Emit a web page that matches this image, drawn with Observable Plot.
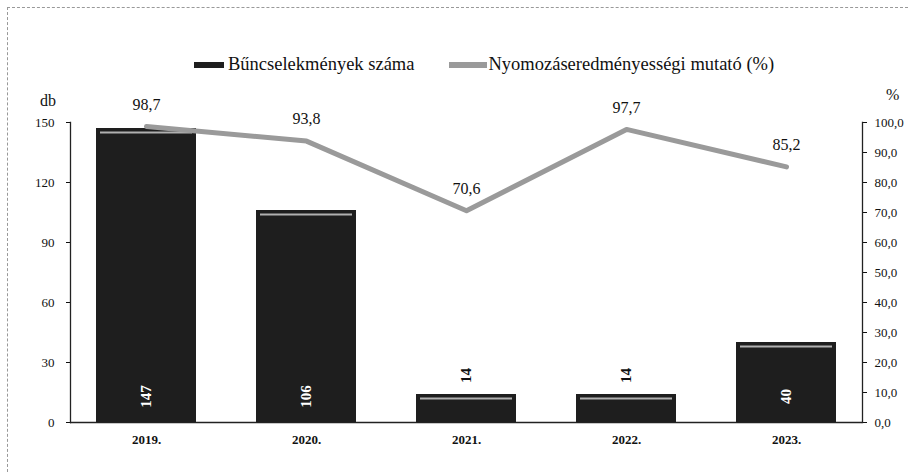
<!DOCTYPE html>
<html>
<head>
<meta charset="utf-8">
<script src="https://cdn.jsdelivr.net/npm/d3@7"></script>
<script src="https://cdn.jsdelivr.net/npm/@observablehq/plot@0.6"></script>
<style>
  html, body { margin: 0; padding: 0; background: #fff; }
  #wrap { position: relative; width: 908px; height: 472px; overflow: hidden; font-family: "Liberation Serif", "Times New Roman", serif; }
  #frameTop { position: absolute; left: 7px; top: 7px; width: 901px; border-top: 1px dashed #999; }
  #frameLeft { position: absolute; left: 7px; top: 7px; height: 465px; border-left: 1px dashed #999; }
  #legend { position: absolute; top: 54px; left: 194px; display: flex; align-items: center; font-size: 18.5px; color: #111; white-space: nowrap; font-family: "Liberation Serif", serif; }
  .sw { display: inline-block; height: 6px; }
  .item { display: flex; align-items: center; }
  #chart { position: absolute; left: 0; top: 0; }
  .lab { position: absolute; font-size: 16px; color: #111; }
</style>
</head>
<body>
<div id="wrap">
  <div id="frameTop"></div>
  <div id="frameLeft"></div>
  <div id="chart"></div>
  <div id="legend">
    <div class="item"><span class="sw" style="background:#1e1e1e;width:30px;margin-right:4px"></span>Bűncselekmények száma</div>
    <div class="item" style="margin-left:35px"><span class="sw" style="background:#9a9a9a;width:38px;margin-right:1px"></span>Nyomozáseredményességi mutató (%)</div>
  </div>
  <div class="lab" style="left:40px; top:92px;">db</div>
  <div class="lab" style="left:886px; top:86px;">%</div>
</div>
<script>
const years = ["2019.", "2020.", "2021.", "2022.", "2023."];
const counts = [147, 106, 14, 14, 40];
const rates = [98.7, 93.8, 70.6, 97.7, 85.2];
const leftTicks = [0, 30, 60, 90, 120, 150];
const rightTicks = [0, 10, 20, 30, 40, 50, 60, 70, 80, 90, 100];

const yMax = 150, pMax = 100, k = yMax / pMax;
const data = years.map((y, i) => ({year: y, count: counts[i], rate: rates[i], rateScaled: rates[i] * k}));
const fmt1 = v => v.toFixed(1).replace(".", ",");

const chart = Plot.plot({
  width: 908,
  height: 472,
  marginLeft: 70,
  marginRight: 46,
  marginTop: 122,
  marginBottom: 50,
  style: {fontFamily: "'Liberation Serif', 'Times New Roman', serif", fontSize: "13px", color: "#111", background: "transparent"},
  x: {domain: years, range: [66, 866], paddingInner: 0.375, paddingOuter: 0.1875, label: null},
  y: {domain: [0, yMax], label: null},
  marks: [
    Plot.barY(data, {x: "year", y: "count", fill: "#1e1e1e"}),
    Plot.tickY(data, {x: "year", y: "count", stroke: "#b0b0b0", strokeWidth: 2, dy: 4, inset: 4}),
    Plot.ruleY([0], {stroke: "#222", strokeWidth: 1.3}),
    Plot.frame({anchor: "left", stroke: "#222", strokeWidth: 1.3}),
    Plot.frame({anchor: "right", stroke: "#222", strokeWidth: 1.3}),
    Plot.axisY({anchor: "left", ticks: leftTicks, tickSize: 4, tickPadding: 12, label: null, fontSize: 13}),
    Plot.axisY({anchor: "right", ticks: rightTicks.map(t => t * k), tickSize: 4, tickPadding: 8, label: null, tickFormat: d => fmt1(d / k), fontSize: 13}),
    Plot.axisX({tickSize: 0, tickPadding: 12, label: null, fontWeight: "bold", fontSize: 13}),
    Plot.line(data, {x: "year", y: "rateScaled", stroke: "#9a9a9a", strokeWidth: 5}),
    Plot.text(data, {x: "year", y: "rateScaled", text: d => fmt1(d.rate), dy: -22, fontSize: 16, fill: "#111"}),
    Plot.text(data.filter(d => d.count >= 30), {x: "year", y: 0, text: d => String(d.count), rotate: -90, dy: -26, fontSize: 15, fontWeight: "bold", fill: "#fff"}),
    Plot.text(data.filter(d => d.count < 30), {x: "year", y: "count", text: d => String(d.count), rotate: -90, dy: -19, fontSize: 15, fontWeight: "bold", fill: "#111"})
  ]
});
document.getElementById("chart").appendChild(chart);
</script>
</body>
</html>
